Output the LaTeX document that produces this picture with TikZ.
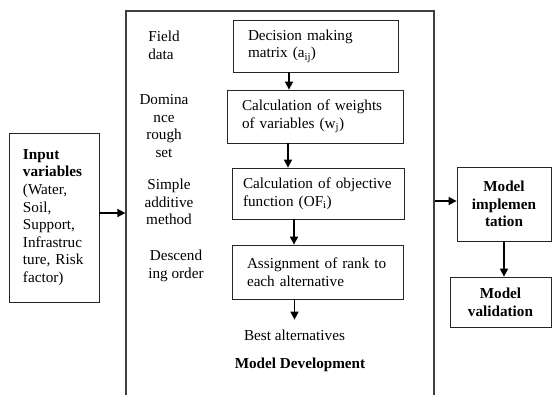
\documentclass[tikz,border=0pt]{standalone}
\usepackage{fontspec}
\setmainfont{Liberation Serif}
\usetikzlibrary{arrows.meta}
\hyphenpenalty=10000
\exhyphenpenalty=10000
\begin{document}
\begin{tikzpicture}[x=1pt,y=-1pt,
  every node/.style={font=\fontsize{15.2}{17.6}\selectfont},
  box/.style={draw=black!85,line width=0.8pt,rectangle,inner ysep=2pt,inner xsep=#1,align=left},
  box/.default=13pt,
  cbox/.style={draw=black!85,line width=0.8pt,rectangle,align=center,font=\fontsize{15.2}{17.6}\selectfont\bfseries},
  lab/.style={inner sep=0pt},
  arr/.style={line width=1.6pt,-{Triangle[length=8pt,width=8pt]}}
]
\useasboundingbox (0,0) rectangle (552,394);
\clip (0,0) rectangle (552,394);
\fill[white] (0,0) rectangle (552,394);

% main container
\node[draw=black!75,line width=1.2pt,minimum width=308pt,minimum height=409pt,inner sep=0pt] (dev) at (280,215.5) {};

% input
\node[box=14pt,text width=62pt,minimum height=169pt] (input) at (54,217.5)
  {\textbf{Input}\\\textbf{variables}\\(Water,\\Soil,\\Support,\\Infrastruc\\ture, Risk\\factor)};

% steps
\node[box=15pt,text width=135pt,minimum height=52pt] (b1) at (315.5,46)
  {Decision making\\matrix (a\textsubscript{ij})};
\node[box=15pt,text width=146pt,minimum height=53pt] (b2) at (315,116.5)
  {Calculation of weights\\of variables (w\textsubscript{j})};
\node[box=11pt,text width=150pt,minimum height=51pt] (b3) at (318,193.5)
  {Calculation of objective\\function (OF\textsubscript{i})};
\node[box=15pt,text width=141pt,minimum height=54pt] (b4) at (317.5,272)
  {Assignment of rank to\\each alternative};
\node[inner xsep=0pt,inner ysep=0pt,outer ysep=10pt] (best) at (294.5,335) {Best alternatives};
\node[font=\fontsize{15.2}{17.6}\selectfont\bfseries] (md) at (300,365) {Model Development};

% left labels
\node[lab,align=left] (l1) at (164,45) {Field\\data};
\node[lab,align=center] (l2) at (164,126) {Domina\\nce\\rough\\set};
\node[lab,align=center] (l3) at (169,202) {Simple\\additive\\method};
\node[lab,align=center] (l4) at (176,266) {Descend\\ing order};

% right side
\node[cbox,minimum width=94pt,minimum height=74pt] (impl) at (504,204) {Model\\implemen\\tation};
\node[cbox,minimum width=101pt,minimum height=50pt] (val) at (500.5,302) {Model\\validation};

% arrows
\draw[arr] ([yshift=4.5pt]input.east) -- ([yshift=4.5pt]input.east -| dev.west);
\draw[arr] ([xshift=-26.5pt]b1.south) -- ([xshift=-26.5pt]b1.south |- b2.north);
\draw[arr] ([xshift=-27pt]b2.south) -- ([xshift=-27pt]b2.south |- b3.north);
\draw[arr] ([xshift=-24pt]b3.south) -- ([xshift=-24pt]b3.south |- b4.north);
\draw[arr] (b4.south -| best.north) -- (best.north);
\draw[arr] ([yshift=3pt]impl.west -| dev.east) -- ([yshift=3pt]impl.west);
\draw[arr] (impl.south) -- (impl.south |- val.north);
\end{tikzpicture}
\end{document}
